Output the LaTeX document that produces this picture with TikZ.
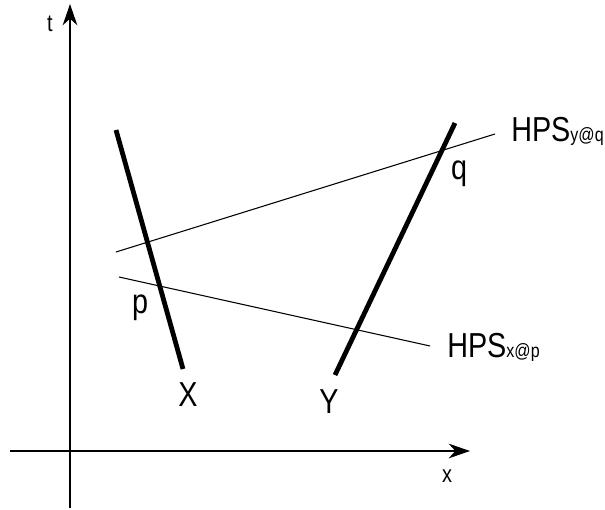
\documentclass[tikz,border=0pt]{standalone}
\usepackage{fontspec}
\setmainfont{Liberation Sans}
\newfontfamily\narrowsans[FakeStretch=0.83]{Liberation Sans}
\usetikzlibrary{arrows.meta}
\tikzset{
  axis/.style={line width=1pt, -{Stealth[length=16pt, width=11pt, inset=5pt]}},
  worldline/.style={line width=3.6pt},
  hps/.style={line width=0.8pt},
  biglabel/.style={font=\fontsize{26}{30}\narrowsans, inner sep=0pt},
  axlabel/.style={font=\fontsize{18}{20}\narrowsans, inner sep=0pt}
}
\newcommand{\hpsname}[1]{HPS{\fontsize{14.5}{17}\selectfont #1}}
\begin{document}
\begin{tikzpicture}[x=0.75pt, y=-0.75pt, line cap=butt, line join=round]
  \useasboundingbox (0,0) rectangle (605,509);
  % axes
  \coordinate (tlow) at (70,508);
  \coordinate (ttop) at (70,4);
  \coordinate (xleft) at (10,451);
  \coordinate (xright) at (470,451);
  \draw[axis] (tlow) -- (ttop);
  \draw[axis] (xleft) -- (xright);
  \node[axlabel, anchor=base] (tlab) at (50,32) {t};
  \node[axlabel, anchor=base] (xlab) at (447,482) {x};

  % world lines
  \coordinate (Xtop) at (116,130);
  \coordinate (Xbot) at (183,369);
  \coordinate (Ytop) at (455,123);
  \coordinate (Ybot) at (335,375);
  \draw[worldline] (Xtop) -- (Xbot);
  \draw[worldline] (Ytop) -- (Ybot);
  \node[biglabel, anchor=base] (Xlab) at (188,406) {X};
  \node[biglabel, anchor=base] (Ylab) at (329,413) {Y};

  % hyperplanes of simultaneity
  \coordinate (hpsqleft) at (116,252);
  \coordinate (hpsqright) at (495,134);
  \coordinate (hpspleft) at (119,277);
  \coordinate (hpspright) at (430,346);
  \draw[hps] (hpsqleft) -- (hpsqright);
  \draw[hps] (hpspleft) -- (hpspright);
  \node[biglabel, anchor=base west] (hpsq) at (511,142) {\hpsname{y@q}};
  \node[biglabel, anchor=base west] (hpsp) at (447,357) {\hpsname{x@p}};
  \node[biglabel, anchor=base] (plab) at (140,313) {p};
  \node[biglabel, anchor=base] (qlab) at (459,180) {q};
\end{tikzpicture}
\end{document}
